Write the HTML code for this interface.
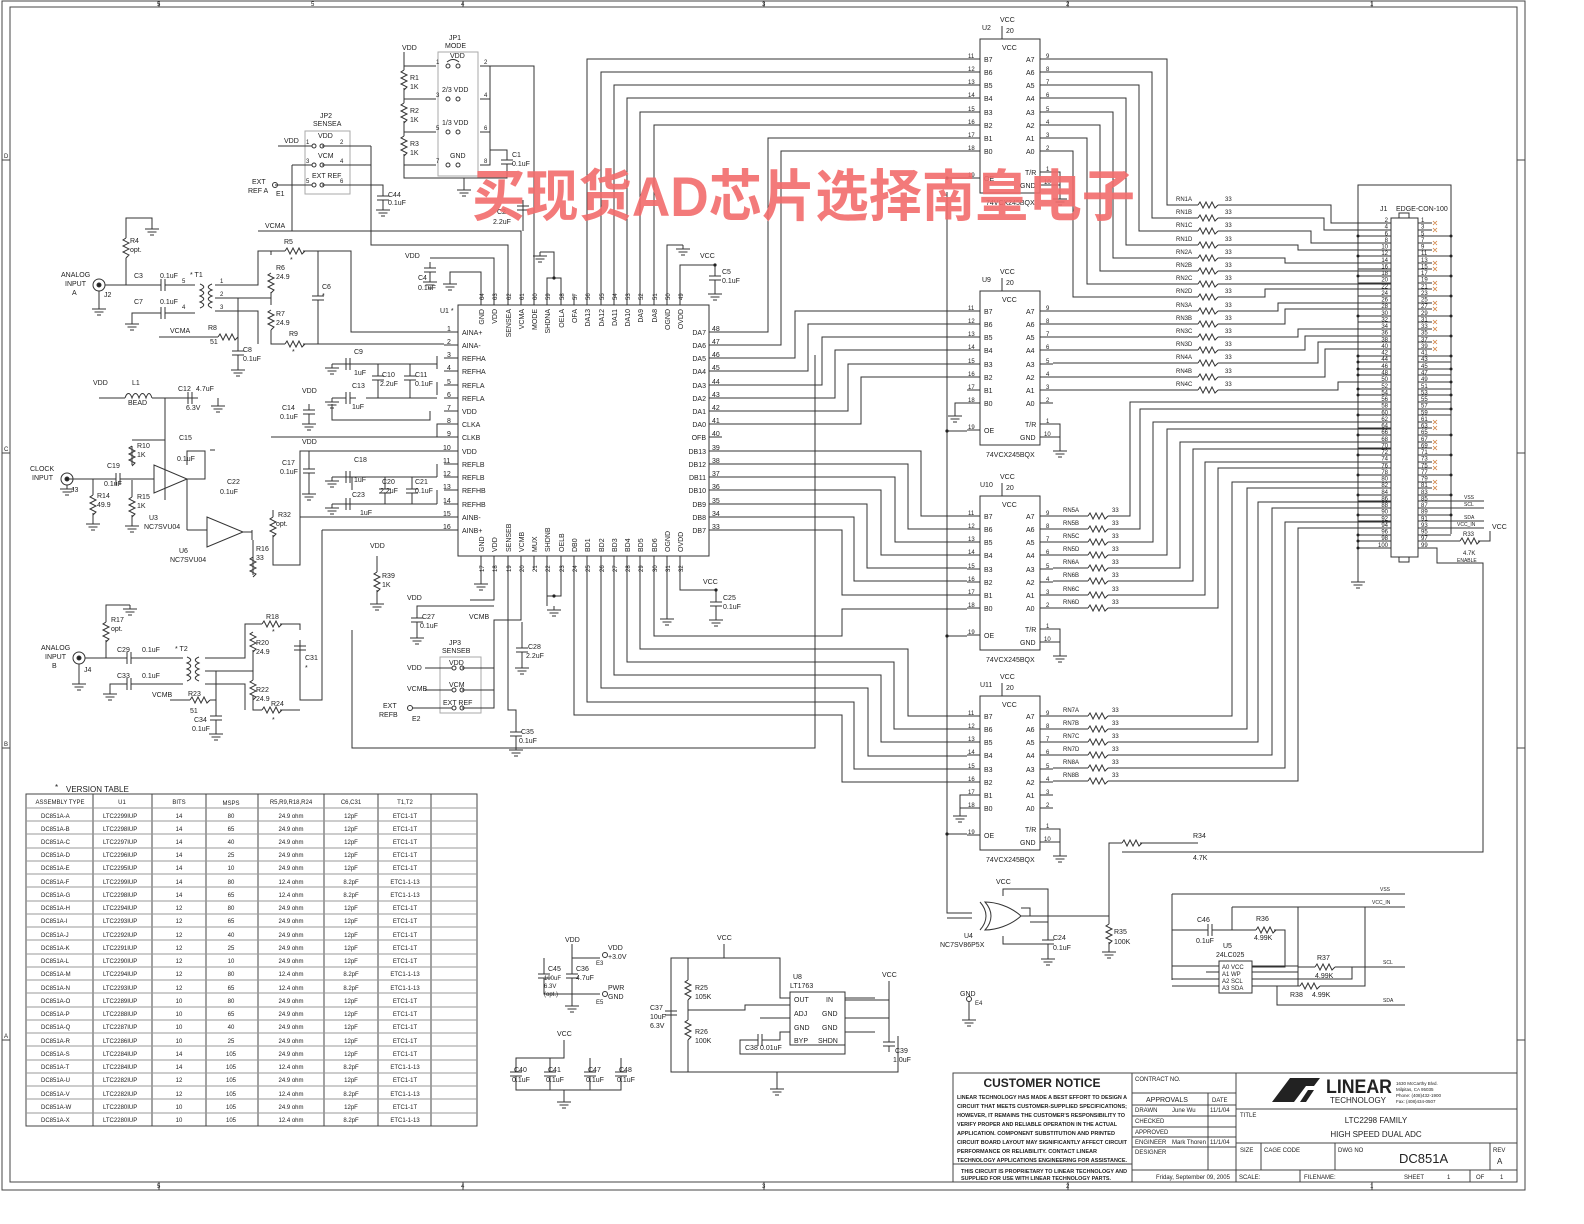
<!DOCTYPE html>
<html><head><meta charset="utf-8"><style>
html,body{margin:0;padding:0;background:#fff}
svg{display:block;font-family:"Liberation Sans",sans-serif;font-size:7px}
text{fill:#222}
.s{font-size:6px}
</style></head><body>
<svg width="1584" height="1224" viewBox="0 0 1584 1224" xmlns="http://www.w3.org/2000/svg" font-size="7">
<defs>
<g id="gnd"><path d="M0 0V4M-7 4H7M-4.5 7H4.5M-2 10H2" stroke="#333" fill="none"/></g>
<g id="capv"><path d="M0 0V6M-6 6H6M-6 10H6M0 10V16" stroke="#333" fill="none"/></g>
<g id="caph"><path d="M0 0H6M6 -6V6M10 -6V6M10 0H16" stroke="#333" fill="none"/></g>
<g id="rh"><path d="M0 0l2 -3l3 6l3 -6l3 6l3 -6l3 6l3 -3" stroke="#333" fill="none"/></g>
<g id="rv"><path d="M0 0l-3 2l6 3l-6 3l6 3l-6 3l6 3l-3 3" stroke="#333" fill="none"/></g>
</defs>
<rect width="1584" height="1224" fill="#fff"/>
<!-- frame -->
<g stroke="#444" fill="none">
<rect x="2" y="1" width="1523" height="1189"/>
<rect x="10" y="7" width="1507" height="1175"/>
<path d="M159 1V7M463 1V7M764 1V7M1068 1V7M1372 1V7M159 1182V1190M463 1182V1190M764 1182V1190M1068 1182V1190M1372 1182V1190M2 160H10M2 453H10M2 748H10M2 1040H10M1517 160H1525M1517 453H1525M1517 748H1525M1517 1040H1525"/>
</g>
<g class="s"><text x="157" y="6">5</text><text x="311" y="6">5</text><text x="461" y="6">4</text><text x="762" y="6">3</text><text x="1066" y="6">2</text><text x="1370" y="6">1</text>
<text x="157" y="1188">5</text><text x="461" y="1188">4</text><text x="762" y="1188">3</text><text x="1066" y="1188">2</text><text x="1370" y="1188">1</text>
<text x="4" y="158">D</text><text x="4" y="451">C</text><text x="4" y="746">B</text><text x="4" y="1038">A</text></g>

<g stroke="#333" fill="none" stroke-width="1">
<rect x="458" y="305" width="251" height="251"/>
<path d="M444 332H458M444 345H458M444 358H458M444 371H458M444 385H458M444 398H458M444 411H458M444 424H458M444 437H458M444 451H458M444 464H458M444 477H458M444 490H458M444 504H458M444 517H458M444 530H458"/>
<path d="M709 332H722M709 345H722M709 358H722M709 371H722M709 385H722M709 398H722M709 411H722M709 424H722M709 437H722M709 451H722M709 464H722M709 477H722M709 490H722M709 504H722M709 517H722M709 530H722"/>
<path d="M481 305V272H450V280M494 305V258H430M508 305V245H371V146M521 305V231H258M534 305V66H490M547 305V278H561V305M554 278V252H540M561 305V278M574 305V295"/>
<path d="M667 305V245H683M680 305V265H715" />
<path d="M587 305V59H967M601 305V72H967M614 305V85H967M627 305V98H967M640 305V112H967M654 305V125H967"/>
<path d="M722 332H768V138H967M722 345H781V151H967M722 358H795V311H967M722 371H808V324H967M722 385H822V337H967M722 398H835V350H967M722 411H848V364H967M722 424H861V377H967"/>
<path d="M722 451H921V516H967M722 464H908V529H967M722 477H895V542H967M722 490H881V555H967M722 504H867V568H967M722 517H854V581H967M722 530H842V595H967"/>
<path d="M481 556V570M494 556V570M508 556V570M521 556V570M534 556V570M547 556V570M561 556V570M574 556V715H842V782H967M587 556V702H854V769H967M601 556V688H868V756H967M614 556V675H881V742H967M627 556V662H894V729H967M640 556V649H908V716H967M654 556V636H842V609H967M667 556V610M680 556V590H716"/>
<path d="M547 570V596H561V570M547 596V606M667 610V615M481 570V580"/>
<path d="M815 355V748H352V630"/>
<path d="M947 192V913H972M947 178H967M947 431H967M947 636H967M947 834H967"/>
<path d="M715 265V270M715 286V290M716 590V596M716 612V616"/>
</g>
<use href="#capv" x="715" y="270"/><use href="#gnd" x="715" y="290"/><use href="#gnd" x="683" y="245"/><use href="#gnd" x="540" y="252"/><use href="#gnd" x="450" y="280"/>
<use href="#capv" x="716" y="596"/><use href="#gnd" x="716" y="616"/><use href="#gnd" x="667" y="615"/><use href="#gnd" x="554" y="606"/><use href="#gnd" x="481" y="580"/>
<use href="#capv" x="430" y="262"/><use href="#gnd" x="430" y="278"/>
<g fill="#222"><circle cx="947" cy="178" r="1.6"/><circle cx="947" cy="431" r="1.6"/><circle cx="947" cy="636" r="1.6"/><circle cx="947" cy="834" r="1.6"/><circle cx="554" cy="278" r="1.6"/><circle cx="554" cy="596" r="1.6"/><circle cx="715" cy="265" r="1.6"/><circle cx="716" cy="590" r="1.6"/></g>

<text x="440" y="313">U1 *</text>
<g><text x="462" y="335">AINA+</text><text x="462" y="348">AINA-</text><text x="462" y="361">REFHA</text><text x="462" y="374">REFHA</text><text x="462" y="388">REFLA</text><text x="462" y="401">REFLA</text><text x="462" y="414">VDD</text><text x="462" y="427">CLKA</text><text x="462" y="440">CLKB</text><text x="462" y="454">VDD</text><text x="462" y="467">REFLB</text><text x="462" y="480">REFLB</text><text x="462" y="493">REFHB</text><text x="462" y="507">REFHB</text><text x="462" y="520">AINB-</text><text x="462" y="533">AINB+</text></g>
<g><text x="447" y="331">1</text><text x="447" y="344">2</text><text x="447" y="357">3</text><text x="447" y="370">4</text><text x="447" y="384">5</text><text x="447" y="397">6</text><text x="447" y="410">7</text><text x="447" y="423">8</text><text x="447" y="436">9</text><text x="443" y="450">10</text><text x="443" y="463">11</text><text x="443" y="476">12</text><text x="443" y="489">13</text><text x="443" y="503">14</text><text x="443" y="516">15</text><text x="443" y="529">16</text></g>
<g text-anchor="end"><text x="706" y="335">DA7</text><text x="706" y="348">DA6</text><text x="706" y="361">DA5</text><text x="706" y="374">DA4</text><text x="706" y="388">DA3</text><text x="706" y="401">DA2</text><text x="706" y="414">DA1</text><text x="706" y="427">DA0</text><text x="706" y="440">OFB</text><text x="706" y="454">DB13</text><text x="706" y="467">DB12</text><text x="706" y="480">DB11</text><text x="706" y="493">DB10</text><text x="706" y="507">DB9</text><text x="706" y="520">DB8</text><text x="706" y="533">DB7</text></g>
<g><text x="712" y="331">48</text><text x="712" y="344">47</text><text x="712" y="357">46</text><text x="712" y="370">45</text><text x="712" y="384">44</text><text x="712" y="397">43</text><text x="712" y="410">42</text><text x="712" y="423">41</text><text x="712" y="436">40</text><text x="712" y="450">39</text><text x="712" y="463">38</text><text x="712" y="476">37</text><text x="712" y="489">36</text><text x="712" y="503">35</text><text x="712" y="516">34</text><text x="712" y="529">33</text></g>
<g text-anchor="end">
<text transform="translate(484,309) rotate(-90)">GND</text><text transform="translate(497,309) rotate(-90)">VDD</text><text transform="translate(511,309) rotate(-90)">SENSEA</text><text transform="translate(524,309) rotate(-90)">VCMA</text><text transform="translate(537,309) rotate(-90)">MODE</text><text transform="translate(550,309) rotate(-90)">SHDNA</text><text transform="translate(564,309) rotate(-90)">OELA</text><text transform="translate(577,309) rotate(-90)">OFA</text><text transform="translate(590,309) rotate(-90)">DA13</text><text transform="translate(604,309) rotate(-90)">DA12</text><text transform="translate(617,309) rotate(-90)">DA11</text><text transform="translate(630,309) rotate(-90)">DA10</text><text transform="translate(643,309) rotate(-90)">DA9</text><text transform="translate(657,309) rotate(-90)">DA8</text><text transform="translate(670,309) rotate(-90)">OGND</text><text transform="translate(683,309) rotate(-90)">OVDD</text>
</g>
<g>
<text transform="translate(484,552) rotate(-90)">GND</text><text transform="translate(497,552) rotate(-90)">VDD</text><text transform="translate(511,552) rotate(-90)">SENSEB</text><text transform="translate(524,552) rotate(-90)">VCMB</text><text transform="translate(537,552) rotate(-90)">MUX</text><text transform="translate(550,552) rotate(-90)">SHDNB</text><text transform="translate(564,552) rotate(-90)">OELB</text><text transform="translate(577,552) rotate(-90)">DB0</text><text transform="translate(590,552) rotate(-90)">BD1</text><text transform="translate(604,552) rotate(-90)">BD2</text><text transform="translate(617,552) rotate(-90)">BD3</text><text transform="translate(630,552) rotate(-90)">BD4</text><text transform="translate(643,552) rotate(-90)">BD5</text><text transform="translate(657,552) rotate(-90)">BD6</text><text transform="translate(670,552) rotate(-90)">OGND</text><text transform="translate(683,552) rotate(-90)">OVDD</text>
</g>
<g class="s">
<text transform="translate(484,300) rotate(-90)">64</text><text transform="translate(497,300) rotate(-90)">63</text><text transform="translate(511,300) rotate(-90)">62</text><text transform="translate(524,300) rotate(-90)">61</text><text transform="translate(537,300) rotate(-90)">60</text><text transform="translate(550,300) rotate(-90)">59</text><text transform="translate(564,300) rotate(-90)">58</text><text transform="translate(577,300) rotate(-90)">57</text><text transform="translate(590,300) rotate(-90)">56</text><text transform="translate(604,300) rotate(-90)">55</text><text transform="translate(617,300) rotate(-90)">54</text><text transform="translate(630,300) rotate(-90)">53</text><text transform="translate(643,300) rotate(-90)">52</text><text transform="translate(657,300) rotate(-90)">51</text><text transform="translate(670,300) rotate(-90)">50</text><text transform="translate(683,300) rotate(-90)">49</text>
<text transform="translate(484,572) rotate(-90)">17</text><text transform="translate(497,572) rotate(-90)">18</text><text transform="translate(511,572) rotate(-90)">19</text><text transform="translate(524,572) rotate(-90)">20</text><text transform="translate(537,572) rotate(-90)">21</text><text transform="translate(550,572) rotate(-90)">22</text><text transform="translate(564,572) rotate(-90)">23</text><text transform="translate(577,572) rotate(-90)">24</text><text transform="translate(590,572) rotate(-90)">25</text><text transform="translate(604,572) rotate(-90)">26</text><text transform="translate(617,572) rotate(-90)">27</text><text transform="translate(630,572) rotate(-90)">28</text><text transform="translate(643,572) rotate(-90)">29</text><text transform="translate(657,572) rotate(-90)">30</text><text transform="translate(670,572) rotate(-90)">31</text><text transform="translate(683,572) rotate(-90)">32</text>
</g>
<text x="700" y="258">VCC</text><text x="722" y="274">C5</text><text x="722" y="283">0.1uF</text>
<text x="703" y="584">VCC</text><text x="723" y="600">C25</text><text x="723" y="609">0.1uF</text>
<text x="405" y="258">VDD</text><text x="418" y="280">C4</text><text x="418" y="290">0.1uF</text>

<!-- 74VCX245 blocks -->
<g>
<g stroke="#333" fill="none"><rect x="980" y="39" width="60" height="154"/>
<path d="M967 59H980M967 72H980M967 85H980M967 98H980M967 112H980M967 125H980M967 138H980M967 151H980M967 178H980M1040 59H1053M1040 72H1053M1040 85H1053M1040 98H1053M1040 112H1053M1040 125H1053M1040 138H1053M1040 151H1053M1040 172H1060V195M1040 185H1060M1002 26V39"/></g>
<use href="#gnd" x="1060" y="195"/>
<text x="1002" y="50">VCC</text><text x="1000" y="22">VCC</text><text x="1006" y="33">20</text>
<text x="984" y="62">B7</text><text x="984" y="75">B6</text><text x="984" y="88">B5</text><text x="984" y="101">B4</text><text x="984" y="115">B3</text><text x="984" y="128">B2</text><text x="984" y="141">B1</text><text x="984" y="154">B0</text><text x="984" y="181">OE</text>
<text x="1026" y="62">A7</text><text x="1026" y="75">A6</text><text x="1026" y="88">A5</text><text x="1026" y="101">A4</text><text x="1026" y="115">A3</text><text x="1026" y="128">A2</text><text x="1026" y="141">A1</text><text x="1026" y="154">A0</text><text x="1025" y="175">T/R</text><text x="1020" y="188">GND</text>
<g class="s"><text x="968" y="58">11</text><text x="968" y="71">12</text><text x="968" y="84">13</text><text x="968" y="97">14</text><text x="968" y="111">15</text><text x="968" y="124">16</text><text x="968" y="137">17</text><text x="968" y="150">18</text><text x="968" y="177">19</text><text x="1046" y="58">9</text><text x="1046" y="71">8</text><text x="1046" y="84">7</text><text x="1046" y="97">6</text><text x="1046" y="111">5</text><text x="1046" y="124">4</text><text x="1046" y="137">3</text><text x="1046" y="150">2</text><text x="1046" y="171">1</text><text x="1044" y="184">10</text></g>
<text x="986" y="205">74VCX245BQX</text>
</g>
<text x="982" y="30">U2</text>
<g transform="translate(0,252)">
<g stroke="#333" fill="none"><rect x="980" y="39" width="60" height="154"/>
<path d="M967 59H980M967 72H980M967 85H980M967 98H980M967 112H980M967 125H980M967 138H980M967 151H980M967 178H980M1040 59H1053M1040 72H1053M1040 85H1053M1040 98H1053M1040 112H1053M1040 125H1053M1040 138H1053M1040 151H1053M1040 172H1060V195M1040 185H1060M1002 26V39M967 151H955V160"/></g>
<use href="#gnd" x="1060" y="195"/><use href="#gnd" x="955" y="160"/>
<text x="1002" y="50">VCC</text><text x="1000" y="22">VCC</text><text x="1006" y="33">20</text><text x="982" y="30">U9</text>
<text x="984" y="62">B7</text><text x="984" y="75">B6</text><text x="984" y="88">B5</text><text x="984" y="101">B4</text><text x="984" y="115">B3</text><text x="984" y="128">B2</text><text x="984" y="141">B1</text><text x="984" y="154">B0</text><text x="984" y="181">OE</text>
<text x="1026" y="62">A7</text><text x="1026" y="75">A6</text><text x="1026" y="88">A5</text><text x="1026" y="101">A4</text><text x="1026" y="115">A3</text><text x="1026" y="128">A2</text><text x="1026" y="141">A1</text><text x="1026" y="154">A0</text><text x="1025" y="175">T/R</text><text x="1020" y="188">GND</text>
<g class="s"><text x="968" y="58">11</text><text x="968" y="71">12</text><text x="968" y="84">13</text><text x="968" y="97">14</text><text x="968" y="111">15</text><text x="968" y="124">16</text><text x="968" y="137">17</text><text x="968" y="150">18</text><text x="968" y="177">19</text><text x="1046" y="58">9</text><text x="1046" y="71">8</text><text x="1046" y="84">7</text><text x="1046" y="97">6</text><text x="1046" y="111">5</text><text x="1046" y="124">4</text><text x="1046" y="137">3</text><text x="1046" y="150">2</text><text x="1046" y="171">1</text><text x="1044" y="184">10</text></g>
<text x="986" y="205">74VCX245BQX</text>
</g>
<g transform="translate(0,457)">
<g stroke="#333" fill="none"><rect x="980" y="39" width="60" height="154"/>
<path d="M967 59H980M967 72H980M967 85H980M967 98H980M967 112H980M967 125H980M967 138H980M967 151H980M967 178H980M1040 59H1053M1040 72H1053M1040 85H1053M1040 98H1053M1040 112H1053M1040 125H1053M1040 138H1053M1040 151H1053M1040 172H1060V195M1040 185H1060M1002 26V39"/></g>
<use href="#gnd" x="1060" y="195"/>
<text x="1002" y="50">VCC</text><text x="1000" y="22">VCC</text><text x="1006" y="33">20</text><text x="980" y="30">U10</text>
<text x="984" y="62">B7</text><text x="984" y="75">B6</text><text x="984" y="88">B5</text><text x="984" y="101">B4</text><text x="984" y="115">B3</text><text x="984" y="128">B2</text><text x="984" y="141">B1</text><text x="984" y="154">B0</text><text x="984" y="181">OE</text>
<text x="1026" y="62">A7</text><text x="1026" y="75">A6</text><text x="1026" y="88">A5</text><text x="1026" y="101">A4</text><text x="1026" y="115">A3</text><text x="1026" y="128">A2</text><text x="1026" y="141">A1</text><text x="1026" y="154">A0</text><text x="1025" y="175">T/R</text><text x="1020" y="188">GND</text>
<g class="s"><text x="968" y="58">11</text><text x="968" y="71">12</text><text x="968" y="84">13</text><text x="968" y="97">14</text><text x="968" y="111">15</text><text x="968" y="124">16</text><text x="968" y="137">17</text><text x="968" y="150">18</text><text x="968" y="177">19</text><text x="1046" y="58">9</text><text x="1046" y="71">8</text><text x="1046" y="84">7</text><text x="1046" y="97">6</text><text x="1046" y="111">5</text><text x="1046" y="124">4</text><text x="1046" y="137">3</text><text x="1046" y="150">2</text><text x="1046" y="171">1</text><text x="1044" y="184">10</text></g>
<text x="986" y="205">74VCX245BQX</text>
</g>
<g transform="translate(0,657)">
<g stroke="#333" fill="none"><rect x="980" y="39" width="60" height="154"/>
<path d="M967 59H980M967 72H980M967 85H980M967 98H980M967 112H980M967 125H980M967 138H980M967 151H980M967 178H980M1040 59H1053M1040 72H1053M1040 85H1053M1040 98H1053M1040 112H1053M1040 125H1053M1040 138H1053M1040 151H1053M1040 172H1060V195M1040 185H1060M1002 26V39M967 138H960V155M967 151H960"/></g>
<use href="#gnd" x="1060" y="195"/><use href="#gnd" x="960" y="155"/>
<text x="1002" y="50">VCC</text><text x="1000" y="22">VCC</text><text x="1006" y="33">20</text><text x="980" y="30">U11</text>
<text x="984" y="62">B7</text><text x="984" y="75">B6</text><text x="984" y="88">B5</text><text x="984" y="101">B4</text><text x="984" y="115">B3</text><text x="984" y="128">B2</text><text x="984" y="141">B1</text><text x="984" y="154">B0</text><text x="984" y="181">OE</text>
<text x="1026" y="62">A7</text><text x="1026" y="75">A6</text><text x="1026" y="88">A5</text><text x="1026" y="101">A4</text><text x="1026" y="115">A3</text><text x="1026" y="128">A2</text><text x="1026" y="141">A1</text><text x="1026" y="154">A0</text><text x="1025" y="175">T/R</text><text x="1020" y="188">GND</text>
<g class="s"><text x="968" y="58">11</text><text x="968" y="71">12</text><text x="968" y="84">13</text><text x="968" y="97">14</text><text x="968" y="111">15</text><text x="968" y="124">16</text><text x="968" y="137">17</text><text x="968" y="150">18</text><text x="968" y="177">19</text><text x="1046" y="58">9</text><text x="1046" y="71">8</text><text x="1046" y="84">7</text><text x="1046" y="97">6</text><text x="1046" y="111">5</text><text x="1046" y="124">4</text><text x="1046" y="137">3</text><text x="1046" y="150">2</text><text x="1046" y="171">1</text><text x="1044" y="184">10</text></g>
<text x="986" y="205">74VCX245BQX</text>
</g>

<g stroke="#333" fill="none">
<path d="M1053 59H1167V205H1198M1053 72H1152V218H1198M1053 85H1139V231H1198M1053 98H1126V245H1198M1053 112H1113V258H1198M1053 125H1100V271H1198M1053 138H1087V284H1198M1053 151H1073V297H1198"/>
<path d="M1053 311H1198M1053 324H1198M1053 337H1198M1053 350H1198M1053 363H1198M1053 377H1198M1053 390H1198"/>
<path d="M1218 205H1331V223H1391M1218 218H1324V230H1391M1218 231H1311V243H1391M1218 245H1298V250H1391M1218 258H1285V263H1391M1218 271H1391M1218 284H1391M1218 297H1265V289H1391M1218 311H1278V303H1391M1218 324H1285V309H1391M1218 337H1298V329H1391M1218 350H1305V336H1391M1218 363H1318V342H1391M1218 377H1325V349H1391M1218 390H1338V382H1391"/>
<path d="M1053 516H1088M1053 529H1088M1053 542H1088M1053 555H1088M1053 568H1088M1053 581H1088M1053 595H1088M1053 608H1088"/>
<path d="M1108 516H1130V402H1391M1108 529H1140V409H1391M1108 542H1153V422H1391M1108 555H1167V429H1391M1108 568H1180V442H1391M1108 581H1193V449H1391M1108 595H1205V462H1391M1108 608H1218V468H1391"/>
<path d="M1053 716H1088M1053 729H1088M1053 742H1088M1053 755H1088M1053 768H1088M1053 781H1088"/>
<path d="M1108 716H1232V482H1391M1108 729H1247V488H1391M1108 742H1258V502H1391M1108 755H1272V508H1391M1108 768H1285V522H1391M1108 781H1298V528H1391"/>
</g>
<g>
<use href="#rh" x="1198" y="205"/><use href="#rh" x="1198" y="218"/><use href="#rh" x="1198" y="231"/><use href="#rh" x="1198" y="245"/><use href="#rh" x="1198" y="258"/><use href="#rh" x="1198" y="271"/><use href="#rh" x="1198" y="284"/><use href="#rh" x="1198" y="297"/><use href="#rh" x="1198" y="311"/><use href="#rh" x="1198" y="324"/><use href="#rh" x="1198" y="337"/><use href="#rh" x="1198" y="350"/><use href="#rh" x="1198" y="363"/><use href="#rh" x="1198" y="377"/><use href="#rh" x="1198" y="390"/>
<use href="#rh" x="1088" y="516"/><use href="#rh" x="1088" y="529"/><use href="#rh" x="1088" y="542"/><use href="#rh" x="1088" y="555"/><use href="#rh" x="1088" y="568"/><use href="#rh" x="1088" y="581"/><use href="#rh" x="1088" y="595"/><use href="#rh" x="1088" y="608"/>
<use href="#rh" x="1088" y="716"/><use href="#rh" x="1088" y="729"/><use href="#rh" x="1088" y="742"/><use href="#rh" x="1088" y="755"/><use href="#rh" x="1088" y="768"/><use href="#rh" x="1088" y="781"/>
</g>
<g class="s">
<text x="1176" y="201">RN1A</text><text x="1176" y="214">RN1B</text><text x="1176" y="227">RN1C</text><text x="1176" y="241">RN1D</text><text x="1176" y="254">RN2A</text><text x="1176" y="267">RN2B</text><text x="1176" y="280">RN2C</text><text x="1176" y="293">RN2D</text><text x="1176" y="307">RN3A</text><text x="1176" y="320">RN3B</text><text x="1176" y="333">RN3C</text><text x="1176" y="346">RN3D</text><text x="1176" y="359">RN4A</text><text x="1176" y="373">RN4B</text><text x="1176" y="386">RN4C</text>
<text x="1225" y="201">33</text><text x="1225" y="214">33</text><text x="1225" y="227">33</text><text x="1225" y="241">33</text><text x="1225" y="254">33</text><text x="1225" y="267">33</text><text x="1225" y="280">33</text><text x="1225" y="293">33</text><text x="1225" y="307">33</text><text x="1225" y="320">33</text><text x="1225" y="333">33</text><text x="1225" y="346">33</text><text x="1225" y="359">33</text><text x="1225" y="373">33</text><text x="1225" y="386">33</text>
<text x="1063" y="512">RN5A</text><text x="1063" y="525">RN5B</text><text x="1063" y="538">RN5C</text><text x="1063" y="551">RN5D</text><text x="1063" y="564">RN6A</text><text x="1063" y="577">RN6B</text><text x="1063" y="591">RN6C</text><text x="1063" y="604">RN6D</text>
<text x="1112" y="512">33</text><text x="1112" y="525">33</text><text x="1112" y="538">33</text><text x="1112" y="551">33</text><text x="1112" y="564">33</text><text x="1112" y="577">33</text><text x="1112" y="591">33</text><text x="1112" y="604">33</text>
<text x="1063" y="712">RN7A</text><text x="1063" y="725">RN7B</text><text x="1063" y="738">RN7C</text><text x="1063" y="751">RN7D</text><text x="1063" y="764">RN8A</text><text x="1063" y="777">RN8B</text>
<text x="1112" y="712">33</text><text x="1112" y="725">33</text><text x="1112" y="738">33</text><text x="1112" y="751">33</text><text x="1112" y="764">33</text><text x="1112" y="777">33</text>
</g>

<!-- J1 -->
<g stroke="#333" fill="none">
<path d="M1358 578V185H1451V534"/>
<rect x="1391" y="218" width="27" height="339"/>
<rect x="1399" y="213" width="10" height="5"/><rect x="1399" y="557" width="10" height="5"/>
<path d="M1358 223H1391M1358 230H1391M1358 236H1391M1358 243H1391M1358 250H1391M1358 256H1391M1358 263H1391M1358 269H1391M1358 276H1391M1358 283H1391M1358 289H1391M1358 296H1391M1358 303H1391M1358 309H1391M1358 316H1391M1358 322H1391M1358 329H1391M1358 336H1391M1358 342H1391M1358 349H1391M1358 356H1391M1358 362H1391M1358 369H1391M1358 375H1391M1358 382H1391M1358 389H1391M1358 395H1391M1358 402H1391M1358 409H1391M1358 415H1391M1358 422H1391M1358 428H1391M1358 435H1391M1358 442H1391M1358 448H1391M1358 455H1391M1358 462H1391M1358 468H1391M1358 475H1391M1358 482H1391M1358 488H1391M1358 495H1391M1358 501H1391M1358 508H1391M1358 515H1391M1358 521H1391M1358 528H1391M1358 535H1391M1358 541H1391M1358 548H1391"/>
<path d="M1418 223H1432M1418 230H1432M1418 236H1451M1418 243H1432M1418 250H1432M1418 256H1451M1418 263H1432M1418 269H1432M1418 276H1451M1418 283H1432M1418 289H1432M1418 296H1451M1418 303H1432M1418 309H1432M1418 316H1451M1418 322H1432M1418 329H1432M1418 336H1451M1418 342H1432M1418 349H1432M1418 356H1451M1418 362H1451M1418 369H1451M1418 375H1451M1418 382H1451M1418 389H1451M1418 395H1451M1418 402H1451M1418 409H1451M1418 415H1451M1418 422H1432M1418 428H1432M1418 435H1451M1418 442H1432M1418 448H1432M1418 455H1451M1418 462H1432M1418 468H1432M1418 475H1451M1418 482H1432M1418 488H1432M1418 495H1451M1418 501H1484M1418 508H1484M1418 515H1451M1418 521H1484M1418 528H1484M1418 535H1451M1418 541H1460M1478 541H1490V531M1418 548H1437V563H1483V852H1122"/>
</g>
<use href="#rh" x="1460" y="541"/><use href="#gnd" x="1358" y="578"/>
<g stroke="#d08040" stroke-width="0.8">
<path d="M1433 221l4 4m0 -4l-4 4M1433 228l4 4m0 -4l-4 4M1433 241l4 4m0 -4l-4 4M1433 248l4 4m0 -4l-4 4M1433 261l4 4m0 -4l-4 4M1433 267l4 4m0 -4l-4 4M1433 281l4 4m0 -4l-4 4M1433 287l4 4m0 -4l-4 4M1433 301l4 4m0 -4l-4 4M1433 307l4 4m0 -4l-4 4M1433 320l4 4m0 -4l-4 4M1433 327l4 4m0 -4l-4 4M1433 340l4 4m0 -4l-4 4M1433 347l4 4m0 -4l-4 4M1433 420l4 4m0 -4l-4 4M1433 426l4 4m0 -4l-4 4M1433 440l4 4m0 -4l-4 4M1433 446l4 4m0 -4l-4 4M1433 460l4 4m0 -4l-4 4M1433 466l4 4m0 -4l-4 4M1433 480l4 4m0 -4l-4 4M1433 486l4 4m0 -4l-4 4"/>
</g>
<g fill="#222"><circle cx="1358" cy="236" r="1.5"/><circle cx="1358" cy="256" r="1.5"/><circle cx="1358" cy="276" r="1.5"/><circle cx="1358" cy="316" r="1.5"/><circle cx="1358" cy="356" r="1.5"/><circle cx="1358" cy="362" r="1.5"/><circle cx="1358" cy="369" r="1.5"/><circle cx="1358" cy="375" r="1.5"/><circle cx="1358" cy="389" r="1.5"/><circle cx="1358" cy="395" r="1.5"/><circle cx="1358" cy="415" r="1.5"/><circle cx="1358" cy="435" r="1.5"/><circle cx="1358" cy="455" r="1.5"/><circle cx="1358" cy="475" r="1.5"/><circle cx="1358" cy="495" r="1.5"/><circle cx="1358" cy="515" r="1.5"/><circle cx="1358" cy="535" r="1.5"/><circle cx="1358" cy="541" r="1.5"/><circle cx="1358" cy="548" r="1.5"/>
<circle cx="1451" cy="236" r="1.5"/><circle cx="1451" cy="256" r="1.5"/><circle cx="1451" cy="276" r="1.5"/><circle cx="1451" cy="296" r="1.5"/><circle cx="1451" cy="316" r="1.5"/><circle cx="1451" cy="336" r="1.5"/><circle cx="1451" cy="356" r="1.5"/><circle cx="1451" cy="369" r="1.5"/><circle cx="1451" cy="382" r="1.5"/><circle cx="1451" cy="395" r="1.5"/><circle cx="1451" cy="409" r="1.5"/><circle cx="1451" cy="435" r="1.5"/><circle cx="1451" cy="455" r="1.5"/><circle cx="1451" cy="475" r="1.5"/><circle cx="1451" cy="495" r="1.5"/><circle cx="1451" cy="515" r="1.5"/></g>
<text x="1380" y="211">J1</text><text x="1396" y="211">EDGE-CON-100</text>
<g class="s" text-anchor="end">
<text x="1388" y="222">2</text><text x="1388" y="228.6">4</text><text x="1388" y="235.3">6</text><text x="1388" y="241.9">8</text><text x="1388" y="248.5">10</text><text x="1388" y="255.2">12</text><text x="1388" y="261.8">14</text><text x="1388" y="268.4">16</text><text x="1388" y="275">18</text><text x="1388" y="281.7">20</text><text x="1388" y="288.3">22</text><text x="1388" y="294.9">24</text><text x="1388" y="301.6">26</text><text x="1388" y="308.2">28</text><text x="1388" y="314.8">30</text><text x="1388" y="321.5">32</text><text x="1388" y="328.1">34</text><text x="1388" y="334.7">36</text><text x="1388" y="341.3">38</text><text x="1388" y="348">40</text><text x="1388" y="354.6">42</text><text x="1388" y="361.2">44</text><text x="1388" y="367.9">46</text><text x="1388" y="374.5">48</text><text x="1388" y="381.1">50</text><text x="1388" y="387.8">52</text><text x="1388" y="394.4">54</text><text x="1388" y="401">56</text><text x="1388" y="407.6">58</text><text x="1388" y="414.3">60</text><text x="1388" y="420.9">62</text><text x="1388" y="427.5">64</text><text x="1388" y="434.2">66</text><text x="1388" y="440.8">68</text><text x="1388" y="447.4">70</text><text x="1388" y="454.1">72</text><text x="1388" y="460.7">74</text><text x="1388" y="467.3">76</text><text x="1388" y="473.9">78</text><text x="1388" y="480.6">80</text><text x="1388" y="487.2">82</text><text x="1388" y="493.8">84</text><text x="1388" y="500.5">86</text><text x="1388" y="507.1">88</text><text x="1388" y="513.7">90</text><text x="1388" y="520.4">92</text><text x="1388" y="527">94</text><text x="1388" y="533.6">96</text><text x="1388" y="540.2">98</text><text x="1388" y="546.9">100</text>
</g>
<g class="s">
<text x="1421" y="222">1</text><text x="1421" y="228.6">3</text><text x="1421" y="235.3">5</text><text x="1421" y="241.9">7</text><text x="1421" y="248.5">9</text><text x="1421" y="255.2">11</text><text x="1421" y="261.8">13</text><text x="1421" y="268.4">15</text><text x="1421" y="275">17</text><text x="1421" y="281.7">19</text><text x="1421" y="288.3">21</text><text x="1421" y="294.9">23</text><text x="1421" y="301.6">25</text><text x="1421" y="308.2">27</text><text x="1421" y="314.8">29</text><text x="1421" y="321.5">31</text><text x="1421" y="328.1">33</text><text x="1421" y="334.7">35</text><text x="1421" y="341.3">37</text><text x="1421" y="348">39</text><text x="1421" y="354.6">41</text><text x="1421" y="361.2">43</text><text x="1421" y="367.9">45</text><text x="1421" y="374.5">47</text><text x="1421" y="381.1">49</text><text x="1421" y="387.8">51</text><text x="1421" y="394.4">53</text><text x="1421" y="401">55</text><text x="1421" y="407.6">57</text><text x="1421" y="414.3">59</text><text x="1421" y="420.9">61</text><text x="1421" y="427.5">63</text><text x="1421" y="434.2">65</text><text x="1421" y="440.8">67</text><text x="1421" y="447.4">69</text><text x="1421" y="454.1">71</text><text x="1421" y="460.7">73</text><text x="1421" y="467.3">75</text><text x="1421" y="473.9">77</text><text x="1421" y="480.6">79</text><text x="1421" y="487.2">81</text><text x="1421" y="493.8">83</text><text x="1421" y="500.5">85</text><text x="1421" y="507.1">87</text><text x="1421" y="513.7">89</text><text x="1421" y="520.4">91</text><text x="1421" y="527">93</text><text x="1421" y="533.6">95</text><text x="1421" y="540.2">97</text><text x="1421" y="546.9">99</text>
</g>
<g font-size="5"><text x="1464" y="499">VSS</text><text x="1464" y="506">SCL</text><text x="1464" y="519">SDA</text><text x="1457" y="526">VCC_IN</text><text x="1457" y="562">ENABLE</text></g>
<text x="1463" y="536" class="s">R33</text><text x="1463" y="555" class="s">4.7K</text>
<text x="1492" y="529">VCC</text>

<!-- JP1 area -->
<g stroke="#333" fill="none">
<path d="M404 52V70M404 88V103M404 121V136M404 154V178H480M404 66H436M404 99H436M404 132H436M404 165H436M480 66H490V165H480M480 99H490M480 132H490M490 150H507V154M507 170V178H464V186"/>
<rect x="438" y="52" width="40" height="124" stroke="#aaa"/>
<circle cx="448" cy="66" r="2"/><circle cx="458" cy="66" r="2"/><circle cx="448" cy="99" r="2"/><circle cx="458" cy="99" r="2"/><circle cx="448" cy="132" r="2"/><circle cx="458" cy="132" r="2"/><circle cx="448" cy="165" r="2"/><circle cx="458" cy="165" r="2"/>
<path d="M447 62q6 -5 12 0"/>
<path d="M523 200V231"/>
<rect x="305" y="131" width="45" height="63" stroke="#aaa"/>
<path d="M278 146H312M322 146H371M292 165H312M322 165H371M275 185H312M322 185H383V190M292 165V231"/>
<circle cx="314" cy="146" r="2"/><circle cx="322" cy="146" r="2"/><circle cx="314" cy="165" r="2"/><circle cx="322" cy="165" r="2"/><circle cx="314" cy="185" r="2"/><circle cx="322" cy="185" r="2"/><circle cx="275" cy="185" r="2.5"/>
<circle cx="99" cy="285" r="6"/><path d="M99 291V305M105 285H155M171 285H195M126 285V258M126 238V218H152V225M155 313H132V320M171 313H195M215 285H258V251H271M271 251H285M303 251H351V332H444M271 251V255M271 292V305M271 330V344H285M303 344H444M215 298H271M238 298V345M238 361V366M215 311H258V344M159 337H218M318 251V290M318 300V344"/>
<path d="M200 284c5 2 5 4 0 6c5 2 5 4 0 6c5 2 5 4 0 6c5 2 5 4 0 6M212 284c-5 2 -5 4 0 6c-5 2 -5 4 0 6c-5 2 -5 4 0 6c-5 2 -5 4 0 6"/>
<path d="M437 356V369M437 382V395M444 437H437V424H444M332 364H366M366 364H437M366 398H437M378 364V374M378 386V398M410 364V374M410 386V398M332 398H340M430 411V420H332V404M271 437H437"/>
<path d="M99 398H125M152 398H178M165 398V500M178 398H198M218 398V402M67 479H110M126 479H154M93 479V495M93 513V520M132 446V465M132 480V497M132 515V522M132 440H165M140 479H154M154 465V493L187 479Z M187 479H205V451H187V465M210 450H215M187 479V530M207 517V547L243 532Z M243 532H252V540M252 530V540M253 557V575M253 540V557M187 530H207M273 510V517M273 535V565H300V451H444"/>
<circle cx="67" cy="479" r="6"/><circle cx="67" cy="479" r="2" fill="#222"/><circle cx="99" cy="285" r="2" fill="#222"/>
<path d="M125 398c2 -6 5 -6 7 0c2 -6 5 -6 7 0c2 -6 5 -6 7 0c2 -6 4 -6 6 0"/>
<path d="M309 451V463M309 479V490M332 477H437M437 464V477M437 490V504M332 504H437M352 477V490M385 477V487M412 477V487M385 499V504M412 499V504"/>
<circle cx="79" cy="658" r="6"/><path d="M79 664V680M85 658H121M137 658H183M106 658V640M106 622V605H130M121 684H110V690M137 684H183M205 658H245V624H262M280 624H300V630M300 640V700H322V530M245 624V638M253 650V680M253 695V710H262M280 710H300M205 671H253M216 671V710M216 726V730M205 684H245V710M170 700H190M210 700H216M322 530H444M300 517H444"/>
<circle cx="79" cy="658" r="2" fill="#222"/>
<path d="M187 657c5 2 5 4 0 6c5 2 5 4 0 6c5 2 5 4 0 6c5 2 5 4 0 6M199 657c-5 2 -5 4 0 6c-5 2 -5 4 0 6c-5 2 -5 4 0 6c-5 2 -5 4 0 6"/>
<rect x="440" y="657" width="41" height="56" stroke="#aaa"/>
<path d="M425 668H452M462 668H494M425 690H452M462 690H494V668M412 708H452M462 708H494V690M494 668V620H521V556M417 612V606H494M417 628V634M522 642V622M522 658V664"/>
<circle cx="454" cy="668" r="2"/><circle cx="462" cy="668" r="2"/><circle cx="454" cy="690" r="2"/><circle cx="462" cy="690" r="2"/><circle cx="454" cy="708" r="2"/><circle cx="462" cy="708" r="2"/><circle cx="410" cy="708" r="2.5"/>
<path d="M508 556V710H516V726M516 742V746M377 556V572M377 590V600M494 556V600H470"/>
</g>
<use href="#rv" x="404" y="70"/><use href="#rv" x="404" y="103"/><use href="#rv" x="404" y="136"/>
<use href="#capv" x="507" y="154"/><use href="#gnd" x="464" y="186"/><use href="#capv" x="523" y="200"/>
<use href="#capv" x="383" y="190"/><use href="#gnd" x="383" y="206"/>
<use href="#rh" x="285" y="251"/><use href="#rh" x="285" y="344"/><use href="#rv" x="271" y="273"/><use href="#rv" x="271" y="310"/><use href="#rh" x="218" y="337"/><use href="#rv" x="126" y="238"/>
<use href="#caph" x="155" y="285"/><use href="#caph" x="155" y="313"/><use href="#gnd" x="99" y="305"/><use href="#gnd" x="152" y="225"/><use href="#gnd" x="132" y="320"/>
<use href="#capv" x="238" y="345"/><use href="#gnd" x="238" y="366"/><use href="#capv" x="318" y="290"/>
<use href="#caph" x="340" y="364"/><use href="#caph" x="340" y="398"/><use href="#capv" x="378" y="370"/><use href="#capv" x="410" y="370"/><use href="#gnd" x="332" y="364"/><use href="#gnd" x="332" y="398"/>
<use href="#capv" x="309" y="404"/><use href="#gnd" x="309" y="420"/>
<use href="#caph" x="182" y="398"/><use href="#gnd" x="218" y="402"/>
<use href="#caph" x="110" y="479"/><use href="#rv" x="93" y="495"/><use href="#gnd" x="93" y="520"/><use href="#gnd" x="67" y="485"/>
<use href="#rv" x="132" y="446"/><use href="#rv" x="132" y="497"/><use href="#gnd" x="132" y="522"/>
<use href="#capv" x="309" y="463"/><use href="#gnd" x="309" y="490"/>
<use href="#caph" x="340" y="477"/><use href="#caph" x="340" y="504"/><use href="#capv" x="385" y="483"/><use href="#capv" x="412" y="483"/><use href="#gnd" x="332" y="477"/><use href="#gnd" x="332" y="504"/>
<use href="#rv" x="273" y="517"/><use href="#rv" x="253" y="557"/><use href="#rv" x="377" y="572"/><use href="#gnd" x="377" y="600"/>
<use href="#caph" x="121" y="658"/><use href="#caph" x="121" y="684"/><use href="#gnd" x="79" y="680"/><use href="#rv" x="106" y="622"/><use href="#gnd" x="130" y="605"/><use href="#gnd" x="110" y="690"/>
<use href="#rh" x="262" y="624"/><use href="#rh" x="262" y="710"/><use href="#rv" x="253" y="632"/><use href="#rv" x="253" y="680"/><use href="#capv" x="300" y="640"/><use href="#rh" x="190" y="700"/><use href="#capv" x="216" y="710"/><use href="#gnd" x="216" y="730"/>
<use href="#capv" x="417" y="612"/><use href="#gnd" x="417" y="634"/><use href="#capv" x="522" y="642"/><use href="#gnd" x="522" y="664"/><use href="#capv" x="516" y="726"/><use href="#gnd" x="516" y="746"/>
<g>
<text x="402" y="50">VDD</text><text x="410" y="80">R1</text><text x="410" y="89">1K</text><text x="410" y="113">R2</text><text x="410" y="122">1K</text><text x="410" y="146">R3</text><text x="410" y="155">1K</text>
<text x="449" y="40">JP1</text><text x="445" y="48">MODE</text><text x="450" y="58">VDD</text><text x="442" y="92">2/3 VDD</text><text x="442" y="125">1/3 VDD</text><text x="450" y="158">GND</text>
<g class="s"><text x="436" y="64">1</text><text x="484" y="64">2</text><text x="436" y="97">3</text><text x="484" y="97">4</text><text x="436" y="130">5</text><text x="484" y="130">6</text><text x="436" y="163">7</text><text x="484" y="163">8</text></g>
<text x="512" y="157">C1</text><text x="512" y="166">0.1uF</text><text x="497" y="214">C2</text><text x="493" y="224">2.2uF</text>
<text x="320" y="118">JP2</text><text x="313" y="126">SENSEA</text><text x="318" y="138">VDD</text><text x="318" y="158">VCM</text><text x="312" y="178">EXT REF</text><text x="284" y="143">VDD</text>
<g class="s"><text x="306" y="144">1</text><text x="340" y="144">2</text><text x="306" y="163">3</text><text x="340" y="163">4</text><text x="306" y="183">5</text><text x="340" y="183">6</text></g>
<text x="252" y="184">EXT</text><text x="248" y="193">REF A</text><text x="276" y="196">E1</text><text x="388" y="197">C44</text><text x="388" y="205">0.1uF</text>
<text x="265" y="228">VCMA</text>
<text x="130" y="243">R4</text><text x="130" y="252">opt.</text>
<text x="61" y="277">ANALOG</text><text x="65" y="286">INPUT</text><text x="72" y="295">A</text><text x="104" y="297">J2</text>
<text x="134" y="278">C3</text><text x="160" y="278">0.1uF</text><text x="134" y="304">C7</text><text x="160" y="304">0.1uF</text>
<text x="190" y="277">* T1</text><text x="220" y="283" class="s">1</text><text x="220" y="296" class="s">2</text><text x="220" y="309" class="s">3</text><text x="182" y="283" class="s">5</text><text x="182" y="309" class="s">4</text>
<text x="284" y="244">R5</text><text x="290" y="262">*</text><text x="276" y="270">R6</text><text x="276" y="279">24.9</text><text x="276" y="316">R7</text><text x="276" y="325">24.9</text><text x="289" y="336">R9</text><text x="292" y="354">*</text>
<text x="322" y="289">C6</text><text x="322" y="298">*</text><text x="170" y="333">VCMA</text><text x="208" y="330">R8</text><text x="210" y="344">51</text><text x="243" y="352">C8</text><text x="243" y="361">0.1uF</text>
<text x="354" y="354">C9</text><text x="354" y="375">1uF</text><text x="382" y="377">C10</text><text x="380" y="386">2.2uF</text><text x="415" y="377">C11</text><text x="415" y="386">0.1uF</text><text x="352" y="388">C13</text><text x="352" y="409">1uF</text>
<text x="302" y="393">VDD</text><text x="282" y="410">C14</text><text x="280" y="419">0.1uF</text>
<text x="93" y="385">VDD</text><text x="132" y="385">L1</text><text x="128" y="405">BEAD</text><text x="178" y="391">C12</text><text x="196" y="391">4.7uF</text><text x="186" y="410">6.3V</text>
<text x="137" y="448">R10</text><text x="137" y="457">1K</text><text x="179" y="440">C15</text><text x="177" y="461">0.1uF</text>
<text x="30" y="471">CLOCK</text><text x="32" y="480">INPUT</text><text x="71" y="492">J3</text><text x="107" y="468">C19</text><text x="104" y="486">0.1uF</text><text x="97" y="498">R14</text><text x="97" y="507">49.9</text>
<text x="137" y="499">R15</text><text x="137" y="508">1K</text><text x="149" y="520">U3</text><text x="144" y="529">NC7SVU04</text><text x="227" y="484">C22</text><text x="220" y="494">0.1uF</text>
<text x="179" y="553">U6</text><text x="170" y="562">NC7SVU04</text><text x="278" y="517">R32</text><text x="276" y="526">opt.</text><text x="256" y="551">R16</text><text x="256" y="560">33</text>
<text x="302" y="444">VDD</text><text x="282" y="465">C17</text><text x="280" y="474">0.1uF</text><text x="354" y="462">C18</text><text x="354" y="482">1uF</text><text x="382" y="484">C20</text><text x="380" y="493">2.2uF</text><text x="415" y="484">C21</text><text x="415" y="493">0.1uF</text><text x="352" y="497">C23</text><text x="360" y="515">1uF</text>
<text x="370" y="548">VDD</text><text x="382" y="578">R39</text><text x="382" y="587">1K</text>
<text x="111" y="622">R17</text><text x="111" y="631">opt.</text><text x="41" y="650">ANALOG</text><text x="45" y="659">INPUT</text><text x="52" y="668">B</text><text x="84" y="672">J4</text>
<text x="117" y="652">C29</text><text x="142" y="652">0.1uF</text><text x="117" y="678">C33</text><text x="142" y="678">0.1uF</text><text x="175" y="651">* T2</text>
<text x="152" y="697">VCMB</text><text x="188" y="696">R23</text><text x="190" y="713">51</text><text x="194" y="722">C34</text><text x="192" y="731">0.1uF</text>
<text x="266" y="619">R18</text><text x="272" y="634">*</text><text x="256" y="645">R20</text><text x="256" y="654">24.9</text><text x="256" y="692">R22</text><text x="256" y="701">24.9</text><text x="271" y="706">R24</text><text x="272" y="722">*</text><text x="305" y="660">C31</text><text x="305" y="670">*</text>
<text x="407" y="600">VDD</text><text x="422" y="619">C27</text><text x="420" y="628">0.1uF</text><text x="469" y="619">VCMB</text><text x="528" y="649">C28</text><text x="526" y="658">2.2uF</text>
<text x="449" y="645">JP3</text><text x="442" y="653">SENSEB</text><text x="449" y="665">VDD</text><text x="449" y="687">VCM</text><text x="443" y="705">EXT REF</text><text x="407" y="670">VDD</text><text x="407" y="691">VCMB</text>
<text x="383" y="708">EXT</text><text x="379" y="717">REFB</text><text x="412" y="721">E2</text><text x="521" y="734">C35</text><text x="519" y="743">0.1uF</text>
</g>

<!-- Version table -->
<text x="55" y="790" font-size="8">*</text><text x="66" y="792" font-size="8">VERSION TABLE</text>
<g stroke="#444" fill="none"><rect x="26" y="794" width="451" height="332"/>
<path d="M93 794V1126M152 794V1126M206 794V1126M258 794V1126M324 794V1126M378 794V1126M431 794V1126"/></g>
<g stroke="#999" fill="none"><path d="M26 808H477M26 821H477M26 834H477M26 848H477M26 861H477M26 874H477M26 887H477M26 901H477M26 914H477M26 927H477M26 940H477M26 954H477M26 967H477M26 980H477M26 993H477M26 1007H477M26 1020H477M26 1033H477M26 1046H477M26 1060H477M26 1073H477M26 1086H477M26 1099H477M26 1113H477"/></g>
<g class="s" text-anchor="middle">
<text x="60" y="804">ASSEMBLY TYPE</text><text x="122" y="804">U1</text><text x="179" y="804">BITS</text><text x="231" y="805">MSPS</text><text x="291" y="804">R5,R9,R18,R24</text><text x="351" y="804">C6,C31</text><text x="405" y="804">T1,T2</text>
</g>
<g class="s">
<text x="41" y="818">DC851A-A</text><text x="41" y="831">DC851A-B</text><text x="41" y="844">DC851A-C</text><text x="41" y="857">DC851A-D</text><text x="41" y="870">DC851A-E</text><text x="41" y="884">DC851A-F</text><text x="41" y="897">DC851A-G</text><text x="41" y="910">DC851A-H</text><text x="41" y="923">DC851A-I</text><text x="41" y="937">DC851A-J</text><text x="41" y="950">DC851A-K</text><text x="41" y="963">DC851A-L</text><text x="41" y="976">DC851A-M</text><text x="41" y="990">DC851A-N</text><text x="41" y="1003">DC851A-O</text><text x="41" y="1016">DC851A-P</text><text x="41" y="1029">DC851A-Q</text><text x="41" y="1043">DC851A-R</text><text x="41" y="1056">DC851A-S</text><text x="41" y="1069">DC851A-T</text><text x="41" y="1082">DC851A-U</text><text x="41" y="1096">DC851A-V</text><text x="41" y="1109">DC851A-W</text><text x="41" y="1122">DC851A-X</text>
<text x="103" y="818">LTC2299IUP</text><text x="103" y="831">LTC2298IUP</text><text x="103" y="844">LTC2297IUP</text><text x="103" y="857">LTC2296IUP</text><text x="103" y="870">LTC2295IUP</text><text x="103" y="884">LTC2299IUP</text><text x="103" y="897">LTC2298IUP</text><text x="103" y="910">LTC2294IUP</text><text x="103" y="923">LTC2293IUP</text><text x="103" y="937">LTC2292IUP</text><text x="103" y="950">LTC2291IUP</text><text x="103" y="963">LTC2290IUP</text><text x="103" y="976">LTC2294IUP</text><text x="103" y="990">LTC2293IUP</text><text x="103" y="1003">LTC2289IUP</text><text x="103" y="1016">LTC2288IUP</text><text x="103" y="1029">LTC2287IUP</text><text x="103" y="1043">LTC2286IUP</text><text x="103" y="1056">LTC2284IUP</text><text x="103" y="1069">LTC2284IUP</text><text x="103" y="1082">LTC2282IUP</text><text x="103" y="1096">LTC2282IUP</text><text x="103" y="1109">LTC2280IUP</text><text x="103" y="1122">LTC2280IUP</text>
</g>
<g class="s" text-anchor="middle">
<text x="179" y="818">14</text><text x="179" y="831">14</text><text x="179" y="844">14</text><text x="179" y="857">14</text><text x="179" y="870">14</text><text x="179" y="884">14</text><text x="179" y="897">14</text><text x="179" y="910">12</text><text x="179" y="923">12</text><text x="179" y="937">12</text><text x="179" y="950">12</text><text x="179" y="963">12</text><text x="179" y="976">12</text><text x="179" y="990">12</text><text x="179" y="1003">10</text><text x="179" y="1016">10</text><text x="179" y="1029">10</text><text x="179" y="1043">10</text><text x="179" y="1056">14</text><text x="179" y="1069">14</text><text x="179" y="1082">12</text><text x="179" y="1096">12</text><text x="179" y="1109">10</text><text x="179" y="1122">10</text>
<text x="231" y="818">80</text><text x="231" y="831">65</text><text x="231" y="844">40</text><text x="231" y="857">25</text><text x="231" y="870">10</text><text x="231" y="884">80</text><text x="231" y="897">65</text><text x="231" y="910">80</text><text x="231" y="923">65</text><text x="231" y="937">40</text><text x="231" y="950">25</text><text x="231" y="963">10</text><text x="231" y="976">80</text><text x="231" y="990">65</text><text x="231" y="1003">80</text><text x="231" y="1016">65</text><text x="231" y="1029">40</text><text x="231" y="1043">25</text><text x="231" y="1056">105</text><text x="231" y="1069">105</text><text x="231" y="1082">105</text><text x="231" y="1096">105</text><text x="231" y="1109">105</text><text x="231" y="1122">105</text>
<text x="291" y="818">24.9 ohm</text><text x="291" y="831">24.9 ohm</text><text x="291" y="844">24.9 ohm</text><text x="291" y="857">24.9 ohm</text><text x="291" y="870">24.9 ohm</text><text x="291" y="884">12.4 ohm</text><text x="291" y="897">12.4 ohm</text><text x="291" y="910">24.9 ohm</text><text x="291" y="923">24.9 ohm</text><text x="291" y="937">24.9 ohm</text><text x="291" y="950">24.9 ohm</text><text x="291" y="963">24.9 ohm</text><text x="291" y="976">12.4 ohm</text><text x="291" y="990">12.4 ohm</text><text x="291" y="1003">24.9 ohm</text><text x="291" y="1016">24.9 ohm</text><text x="291" y="1029">24.9 ohm</text><text x="291" y="1043">24.9 ohm</text><text x="291" y="1056">24.9 ohm</text><text x="291" y="1069">12.4 ohm</text><text x="291" y="1082">24.9 ohm</text><text x="291" y="1096">12.4 ohm</text><text x="291" y="1109">24.9 ohm</text><text x="291" y="1122">12.4 ohm</text>
<text x="351" y="818">12pF</text><text x="351" y="831">12pF</text><text x="351" y="844">12pF</text><text x="351" y="857">12pF</text><text x="351" y="870">12pF</text><text x="351" y="884">8.2pF</text><text x="351" y="897">8.2pF</text><text x="351" y="910">12pF</text><text x="351" y="923">12pF</text><text x="351" y="937">12pF</text><text x="351" y="950">12pF</text><text x="351" y="963">12pF</text><text x="351" y="976">8.2pF</text><text x="351" y="990">8.2pF</text><text x="351" y="1003">12pF</text><text x="351" y="1016">12pF</text><text x="351" y="1029">12pF</text><text x="351" y="1043">12pF</text><text x="351" y="1056">12pF</text><text x="351" y="1069">8.2pF</text><text x="351" y="1082">12pF</text><text x="351" y="1096">8.2pF</text><text x="351" y="1109">12pF</text><text x="351" y="1122">8.2pF</text>
<text x="405" y="818">ETC1-1T</text><text x="405" y="831">ETC1-1T</text><text x="405" y="844">ETC1-1T</text><text x="405" y="857">ETC1-1T</text><text x="405" y="870">ETC1-1T</text><text x="405" y="884">ETC1-1-13</text><text x="405" y="897">ETC1-1-13</text><text x="405" y="910">ETC1-1T</text><text x="405" y="923">ETC1-1T</text><text x="405" y="937">ETC1-1T</text><text x="405" y="950">ETC1-1T</text><text x="405" y="963">ETC1-1T</text><text x="405" y="976">ETC1-1-13</text><text x="405" y="990">ETC1-1-13</text><text x="405" y="1003">ETC1-1T</text><text x="405" y="1016">ETC1-1T</text><text x="405" y="1029">ETC1-1T</text><text x="405" y="1043">ETC1-1T</text><text x="405" y="1056">ETC1-1T</text><text x="405" y="1069">ETC1-1-13</text><text x="405" y="1082">ETC1-1T</text><text x="405" y="1096">ETC1-1-13</text><text x="405" y="1109">ETC1-1T</text><text x="405" y="1122">ETC1-1-13</text>
</g>

<!-- bottom circuits -->
<g stroke="#333" fill="none">
<path d="M572 944V958H600M544 958V968M544 984V994H600M572 958V968M572 984V994M572 994V1002"/>
<circle cx="605" cy="955" r="2.5"/><circle cx="605" cy="994" r="2.5"/>
<path d="M564 1040V1058H516V1066M550 1058V1066M590 1058V1066M621 1058V1066M516 1082V1090H621V1082M550 1082V1090M590 1082V1090M564 1090V1098"/>
<rect x="790" y="992" width="55" height="53"/>
<path d="M724 944V958H671V1072H898V1036M688 958V980M688 1000V1020M688 1040V1072M671 995V1005M671 1021V1040M688 1010H745V1005H790M724 958H780V998H790M790 1018H760M790 1032H780V1040H768M752 1040H740V1054H845V1032M845 998H875M889 981V1000H845M845 1018H889M845 1032H875M889 1000V1036M777 1072V1085"/>
<path d="M972 918H947M985 902c10 0 25 4 36 14c-11 10 -26 14 -36 14c8 -9 8 -19 0 -28ZM980 902c8 9 8 19 0 28M1021 916H1030M1003 896V889H1048V934M1003 936V944H1048M1048 950V955M1021 908H1030V916H1109V843H1122M1140 843H1198M1109 916V924M1109 942V948M1030 922H1048"/>
<circle cx="969" cy="999" r="2.5"/><path d="M969 1001V1016"/>
<rect x="1219" y="961" width="33" height="32"/>
<path d="M1172 894H1405M1232 907H1405M1172 894V980M1172 930H1202M1218 930H1232V907M1232 930H1256M1274 930H1285V967H1252M1206 966H1219M1206 972H1219M1206 979H1219M1206 986H1219M1172 966H1206M1172 979H1206M1172 986H1206M1252 966H1298M1298 907V986M1252 972H1298M1252 979H1352V967M1252 986H1300M1320 986H1365V907M1298 967H1315M1335 967H1405M1277 986V1005H1405"/>
</g>
<use href="#capv" x="544" y="968"/><use href="#capv" x="572" y="968"/><use href="#gnd" x="572" y="1002"/>
<use href="#capv" x="516" y="1066"/><use href="#capv" x="550" y="1066"/><use href="#capv" x="590" y="1066"/><use href="#capv" x="621" y="1066"/><use href="#gnd" x="564" y="1098"/>
<use href="#rv" x="688" y="980"/><use href="#rv" x="688" y="1020"/><use href="#capv" x="671" y="1005"/><use href="#caph" x="752" y="1040"/><use href="#capv" x="889" y="1036"/><use href="#gnd" x="777" y="1085"/>
<use href="#capv" x="1048" y="934"/><use href="#gnd" x="1048" y="955"/><use href="#rv" x="1109" y="924"/><use href="#gnd" x="1109" y="948"/><use href="#rh" x="1122" y="843"/><use href="#gnd" x="969" y="1016"/>
<use href="#caph" x="1202" y="930"/><use href="#rh" x="1256" y="930"/><use href="#rh" x="1315" y="967"/><use href="#rh" x="1300" y="986"/>
<g>
<text x="565" y="942">VDD</text><text x="608" y="950">VDD</text><text x="608" y="959">+3.0V</text><text x="596" y="965" class="s">E3</text>
<text x="548" y="971">C45</text><text x="544" y="980" class="s">100uF</text><text x="544" y="988" class="s">6.3V</text><text x="544" y="996" class="s">(opt.)</text><text x="576" y="971">C36</text><text x="576" y="980">4.7uF</text>
<text x="608" y="990">PWR</text><text x="608" y="999">GND</text><text x="596" y="1004" class="s">E5</text>
<text x="557" y="1036">VCC</text><text x="514" y="1072">C40</text><text x="512" y="1082">0.1uF</text><text x="548" y="1072">C41</text><text x="546" y="1082">0.1uF</text><text x="588" y="1072">C47</text><text x="586" y="1082">0.1uF</text><text x="619" y="1072">C48</text><text x="617" y="1082">0.1uF</text>
<text x="717" y="940">VCC</text><text x="793" y="979">U8</text><text x="790" y="988">LT1763</text>
<text x="794" y="1002">OUT</text><text x="826" y="1002">IN</text><text x="794" y="1016">ADJ</text><text x="822" y="1016">GND</text><text x="794" y="1030">GND</text><text x="822" y="1030">GND</text><text x="794" y="1043">BYP</text><text x="818" y="1043">SHDN</text>
<text x="695" y="990">R25</text><text x="695" y="999">105K</text><text x="695" y="1034">R26</text><text x="695" y="1043">100K</text><text x="650" y="1010">C37</text><text x="650" y="1019">10uF</text><text x="650" y="1028">6.3V</text>
<text x="745" y="1050">C38</text><text x="760" y="1050">0.01uF</text><text x="882" y="977">VCC</text><text x="895" y="1053">C39</text><text x="893" y="1062">1.0uF</text>
<text x="996" y="884">VCC</text><text x="964" y="938">U4</text><text x="940" y="947">NC7SV86P5X</text><text x="1053" y="940">C24</text><text x="1053" y="950">0.1uF</text><text x="1114" y="934">R35</text><text x="1114" y="944">100K</text>
<text x="1193" y="838">R34</text><text x="1193" y="860">4.7K</text><text x="960" y="996">GND</text><text x="975" y="1005" class="s">E4</text>
<text x="1197" y="922">C46</text><text x="1196" y="943">0.1uF</text><text x="1256" y="921">R36</text><text x="1254" y="940">4.99K</text><text x="1223" y="948">U5</text><text x="1216" y="957">24LC025</text>
<text x="1222" y="969" class="s">A0 VCC</text><text x="1222" y="976" class="s">A1  WP</text><text x="1222" y="983" class="s">A2 SCL</text><text x="1222" y="990" class="s">A3 SDA</text>
<text x="1317" y="960">R37</text><text x="1315" y="978">4.99K</text><text x="1290" y="997">R38</text><text x="1312" y="997">4.99K</text>
<g font-size="5"><text x="1380" y="891">VSS</text><text x="1372" y="904">VCC_IN</text><text x="1383" y="964">SCL</text><text x="1383" y="1002">SDA</text></g>
</g>

<!-- title block -->
<g stroke="#444" fill="none">
<rect x="953" y="1073" width="564" height="109"/>
<path d="M1132 1073V1182M1236 1073V1182M953 1164H1132M1132 1093H1236M1132 1105H1236M1132 1116H1236M1132 1127H1236M1132 1137H1236M1132 1147H1236M1132 1170H1236M1208 1093V1170M1236 1109H1517M1236 1143H1517M1236 1170H1517M1261 1143V1170M1335 1143V1170M1490 1143V1170M1300 1170V1182M1470 1170V1182"/>
</g>
<text x="1042" y="1087" text-anchor="middle" font-size="12" font-weight="bold">CUSTOMER NOTICE</text>
<g font-size="5" font-weight="bold">
<text x="957" y="1099" textLength="170" lengthAdjust="spacingAndGlyphs">LINEAR TECHNOLOGY HAS MADE A BEST EFFORT TO DESIGN A</text>
<text x="957" y="1108" textLength="170" lengthAdjust="spacingAndGlyphs">CIRCUIT THAT MEETS CUSTOMER-SUPPLIED SPECIFICATIONS;</text>
<text x="957" y="1117" textLength="168" lengthAdjust="spacingAndGlyphs">HOWEVER, IT REMAINS THE CUSTOMER'S RESPONSIBILITY TO</text>
<text x="957" y="1126" textLength="160" lengthAdjust="spacingAndGlyphs">VERIFY PROPER AND RELIABLE OPERATION IN THE ACTUAL</text>
<text x="957" y="1135" textLength="158" lengthAdjust="spacingAndGlyphs">APPLICATION. COMPONENT SUBSTITUTION AND PRINTED</text>
<text x="957" y="1144" textLength="170" lengthAdjust="spacingAndGlyphs">CIRCUIT BOARD LAYOUT MAY SIGNIFICANTLY AFFECT CIRCUIT</text>
<text x="957" y="1153" textLength="140" lengthAdjust="spacingAndGlyphs">PERFORMANCE OR RELIABILITY. CONTACT LINEAR</text>
<text x="957" y="1162" textLength="170" lengthAdjust="spacingAndGlyphs">TECHNOLOGY APPLICATIONS ENGINEERING FOR ASSISTANCE.</text>
<text x="961" y="1173" textLength="166" lengthAdjust="spacingAndGlyphs">THIS CIRCUIT IS PROPRIETARY TO LINEAR TECHNOLOGY AND</text>
<text x="961" y="1180" textLength="150" lengthAdjust="spacingAndGlyphs">SUPPLIED FOR USE WITH LINEAR TECHNOLOGY PARTS.</text>
</g>
<g class="s"><text x="1135" y="1081">CONTRACT NO.</text><text x="1212" y="1102">DATE</text>
<text x="1135" y="1112">DRAWN</text><text x="1172" y="1112">June Wu</text><text x="1210" y="1112">11/1/04</text><text x="1135" y="1123">CHECKED</text><text x="1135" y="1134">APPROVED</text><text x="1135" y="1144">ENGINEER</text><text x="1172" y="1144">Mark Thoren</text><text x="1210" y="1144">11/1/04</text><text x="1135" y="1154">DESIGNER</text>
<text x="1156" y="1179">Friday, September 09, 2005</text>
<text x="1240" y="1117">TITLE</text><text x="1240" y="1152">SIZE</text><text x="1264" y="1152">CAGE CODE</text><text x="1338" y="1152">DWG NO</text><text x="1493" y="1152">REV</text>
<text x="1239" y="1179">SCALE:</text><text x="1304" y="1179">FILENAME:</text><text x="1404" y="1179">SHEET</text><text x="1447" y="1179">1</text><text x="1476" y="1179">OF</text><text x="1500" y="1179">1</text></g>
<text x="1146" y="1102">APPROVALS</text>
<g font-size="4.5"><text x="1396" y="1085">1630 McCarthy Blvd.</text><text x="1396" y="1091">Milpitas, CA 95035</text><text x="1396" y="1097">Phone: (408)432-1900</text><text x="1396" y="1103">Fax: (408)434-0507</text></g>
<text x="1376" y="1123" text-anchor="middle" font-size="8">LTC2298 FAMILY</text>
<text x="1376" y="1137" text-anchor="middle" font-size="8">HIGH SPEED DUAL ADC</text>
<text x="1399" y="1163" font-size="13">DC851A</text><text x="1497" y="1164" font-size="8">A</text>
<path d="M1272 1102l18 -24h30l-6 8h-8l-12 16z" fill="#222"/>
<path d="M1300 1102l8 -12h6l-8 12z" fill="#222"/>
<text x="1326" y="1093" font-size="19" font-weight="bold" textLength="66" lengthAdjust="spacingAndGlyphs">LINEAR</text>
<text x="1330" y="1103" font-size="8">TECHNOLOGY</text>

<!-- watermark -->
<text x="472" y="216" font-family="'Liberation Sans','Noto Sans CJK SC',sans-serif" font-size="56" font-weight="bold" fill="#f26b6b" fill-opacity="0.9" textLength="663" lengthAdjust="spacingAndGlyphs" style="font-family:'Liberation Sans','Noto Sans CJK SC',sans-serif;font-size:56px;fill:#f26b6b">买现货AD芯片选择南皇电子</text>
</svg>
</body></html>
